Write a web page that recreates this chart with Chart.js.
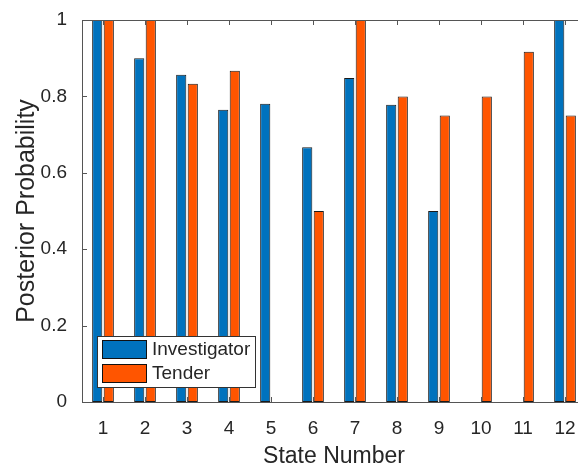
<!DOCTYPE html>
<html>
<head>
<meta charset="utf-8">
<script src="https://cdn.jsdelivr.net/npm/chart.js@4/dist/chart.umd.min.js"></script>
<style>
    html, body { margin: 0; padding: 0; background: #fff; overflow: hidden; }
    #wrap { width: 600px; height: 468px; }
</style>
</head>
<body>
<div id="wrap"><canvas id="chart" width="600" height="468"></canvas></div>
<script>
const stateNumbers = ["1", "2", "3", "4", "5", "6", "7", "8", "9", "10", "11", "12"];
const investigatorProb = [1, 0.9, 0.857, 0.765, 0.781, 0.667, 0.848, 0.778, 0.5, 0, 0, 1];
const tenderProb = [1, 1, 0.833, 0.867, 0, 0.5, 1, 0.8, 0.75, 0.8, 0.917, 0.75];
const yTicks = [0, 0.2, 0.4, 0.6, 0.8, 1];

const textColor = "#262626";
const axisColor = "#555555";
const fontFamily = "'Liberation Sans', Arial, Helvetica, sans-serif";

// box around the axes with short inward tick marks, like a matlab plot
const axesBox = {
    id: "axesBox",
    afterDatasetsDraw(chart) {
        const ctx = chart.ctx;
        const a = chart.chartArea;
        const x = chart.scales.x;
        const y = chart.scales.y;
        const tick = 5;
        ctx.save();
        ctx.strokeStyle = axisColor;
        ctx.lineWidth = 1;
        ctx.beginPath();
        ctx.moveTo(a.left, a.top + 0.5);
        ctx.lineTo(a.right, a.top + 0.5);
        ctx.moveTo(a.right - 0.5, a.top);
        ctx.lineTo(a.right - 0.5, a.bottom);
        stateNumbers.forEach((s, i) => {
            const px = Math.round(x.getPixelForValue(i)) + 0.5;
            ctx.moveTo(px, a.bottom);
            ctx.lineTo(px, a.bottom - tick);
            ctx.moveTo(px, a.top);
            ctx.lineTo(px, a.top + tick);
        });
        yTicks.forEach(v => {
            const py = Math.round(y.getPixelForValue(v)) + 0.5;
            ctx.moveTo(a.left, py);
            ctx.lineTo(a.left + tick, py);
            ctx.moveTo(a.right, py);
            ctx.lineTo(a.right - tick, py);
        });
        ctx.stroke();
        ctx.restore();
    }
};

// legend box sitting in the lower left corner of the plot
const cornerLegend = {
    id: "cornerLegend",
    afterDraw(chart) {
        const ctx = chart.ctx;
        const a = chart.chartArea;
        const boxX = a.left + 15;
        const boxY = a.bottom - 66;
        const boxW = 159;
        const boxH = 52;
        ctx.save();
        ctx.fillStyle = "#fff";
        ctx.fillRect(boxX, boxY, boxW, boxH);
        ctx.strokeStyle = "#333";
        ctx.lineWidth = 1;
        ctx.strokeRect(boxX + 0.5, boxY + 0.5, boxW - 1, boxH - 1);
        ctx.font = "19px " + fontFamily;
        ctx.textBaseline = "middle";
        chart.data.datasets.forEach((ds, i) => {
            const sy = boxY + 4 + i * 24;
            ctx.fillStyle = ds.backgroundColor;
            ctx.fillRect(boxX + 5, sy, 45, 19);
            ctx.strokeStyle = "#111";
            ctx.strokeRect(boxX + 5.5, sy + 0.5, 44, 18);
            ctx.fillStyle = textColor;
            ctx.fillText(ds.label, boxX + 55, sy + 10);
        });
        ctx.restore();
    }
};

const chart = new Chart(document.getElementById("chart"), {
    type: "bar",
    data: {
        labels: stateNumbers,
        datasets: [
            {
                label: "Investigator",
                data: investigatorProb,
                backgroundColor: "#0072BD",
                borderColor: "#1a1a1a",
                borderWidth: 1,
                borderSkipped: false
            },
            {
                label: "Tender",
                data: tenderProb,
                backgroundColor: "#FF5500",
                borderColor: "#1a1a1a",
                borderWidth: 1,
                borderSkipped: false
            }
        ]
    },
    options: {
        responsive: false,
        devicePixelRatio: 1,
        animation: false,
        categoryPercentage: 0.55,
        barPercentage: 0.88,
        layout: {
            padding: { left: 0, top: 20, right: 14, bottom: 0 }
        },
        plugins: {
            legend: { display: false },
            tooltip: { enabled: false }
        },
        scales: {
            x: {
                offset: true,
                grid: { display: false },
                border: { display: true, color: axisColor },
                ticks: {
                    color: textColor,
                    font: { family: fontFamily, size: 19 },
                    padding: 7,
                    maxRotation: 0
                },
                title: {
                    display: true,
                    text: "State Number",
                    color: textColor,
                    font: { family: fontFamily, size: 23, lineHeight: 1 },
                    padding: { top: 0, bottom: 0 }
                },
                afterFit(scale) { scale.height = 66; }
            },
            y: {
                min: 0,
                max: 1,
                grid: { display: false },
                border: { display: true, color: axisColor },
                afterBuildTicks(scale) {
                    scale.ticks = yTicks.map(v => ({ value: v }));
                },
                ticks: {
                    color: textColor,
                    font: { family: fontFamily, size: 19 },
                    padding: 7,
                    callback: v => String(v)
                },
                title: {
                    display: true,
                    text: "Posterior Probability",
                    color: textColor,
                    font: { family: fontFamily, size: 25, lineHeight: 1 },
                    padding: { top: 15, bottom: 15 }
                },
                afterFit(scale) { scale.width = 82; }
            }
        }
    },
    plugins: [axesBox, cornerLegend]
});
</script>
</body>
</html>
